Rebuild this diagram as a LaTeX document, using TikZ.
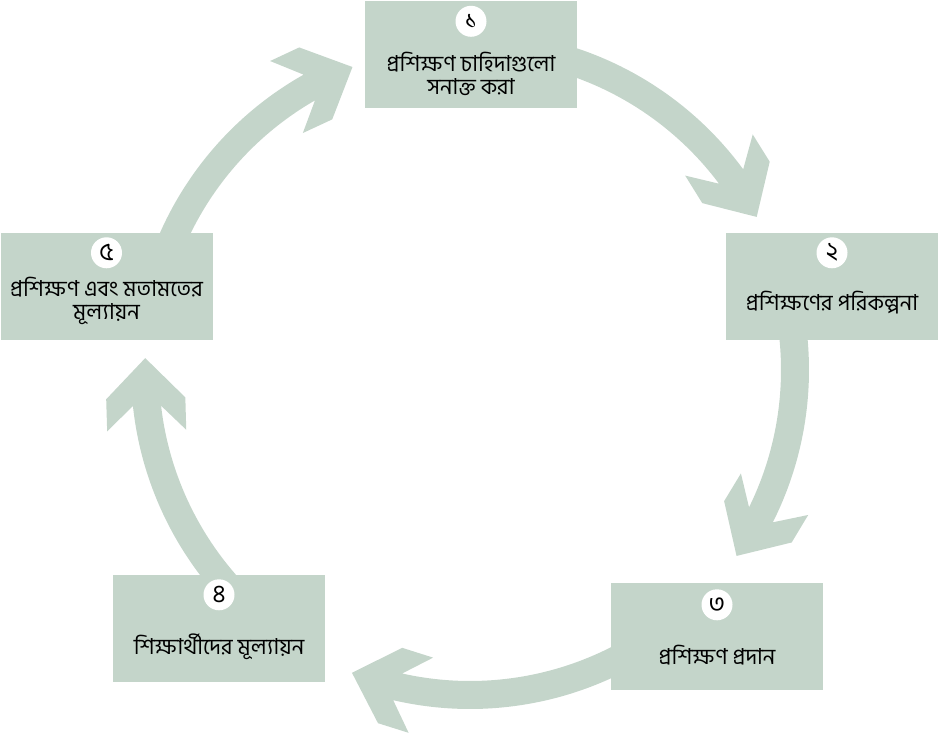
\documentclass[tikz,border=0pt]{standalone}
\usepackage{fontspec}
\newfontfamily\bnfont[Script=Bengali]{Hind Siliguri}
\definecolor{sage}{RGB}{196,213,202}

% une fleche courbe du cycle : angle de depart, angle de la pointe
\newcommand{\cyclearrow}[2]{%
  \fill[arrowband] ({#1}:339) arc[start angle=#1, end angle=#2+8.2, radius=339]
    -- ({#2+11.7}:368) -- ({#2+6.7}:365) -- ({#2}:325)
    -- ({#2+7.6}:286) -- ({#2+14}:290) -- ({#2+8.7}:311)
    arc[start angle=#2+8.7, end angle=#1, radius=311] -- cycle;}

\begin{document}
\begin{tikzpicture}[x=1pt, y=1pt,
    stepbox/.style={fill=sage, minimum width=212pt, minimum height=107pt, inner sep=0pt},
    numdot/.style={circle, fill=white, minimum size=31pt, inner sep=0pt, font=\bnfont\fontsize{25}{25}\selectfont},
    steptext/.style={align=center, inner sep=0pt, font=\bnfont\fontsize{22}{23}\selectfont},
    arrowband/.style={fill=sage, shift={(cyc)}}]

    \useasboundingbox (0,0) rectangle (951,737);
    \coordinate (cyc) at (470,367);

    % Les fleches autour du cercle
    \cyclearrow{85}{28.1}
    \cyclearrow{15}{-34.9}
    \cyclearrow{-52}{-111.3}
    \cyclearrow{232}{177.9}
    \cyclearrow{165}{111.2}

    % Les cinq etapes
    \node[stepbox] (b1) at (471,682) {};
    \node[stepbox] (b2) at (832,450.5) {};
    \node[stepbox] (b3) at (717,100.5) {};
    \node[stepbox] (b4) at (219,108.5) {};
    \node[stepbox] (b5) at (106.5,450.5) {};

    % Les numeros
    \node[numdot] (n1) at ([yshift=-20pt]b1.north) {১};
    \node[numdot] (n2) at ([yshift=-20pt]b2.north) {২};
    \node[numdot] (n3) at ([yshift=-22pt]b3.north) {৩};
    \node[numdot] (n4) at ([yshift=-20pt]b4.north) {৪};
    \node[numdot] (n5) at ([yshift=-20pt]b5.north) {৫};

    % Les textes
    \node[steptext] (t1) at ([yshift=-73pt]b1.north) {প্রশিক্ষণ চাহিদাগুলো\\সনাক্ত করা};
    \node[steptext] (t2) at ([yshift=-70pt]b2.north) {প্রশিক্ষণের পরিকল্পনা};
    \node[steptext] (t3) at ([yshift=-72pt]b3.north) {প্রশিক্ষণ প্রদান};
    \node[steptext] (t4) at ([yshift=-72pt]b4.north) {শিক্ষার্থীদের মূল্যায়ন};
    \node[steptext] (t5) at ([yshift=-68pt]b5.north) {প্রশিক্ষণ এবং মতামতের\\মূল্যায়ন};

\end{tikzpicture}
\end{document}
